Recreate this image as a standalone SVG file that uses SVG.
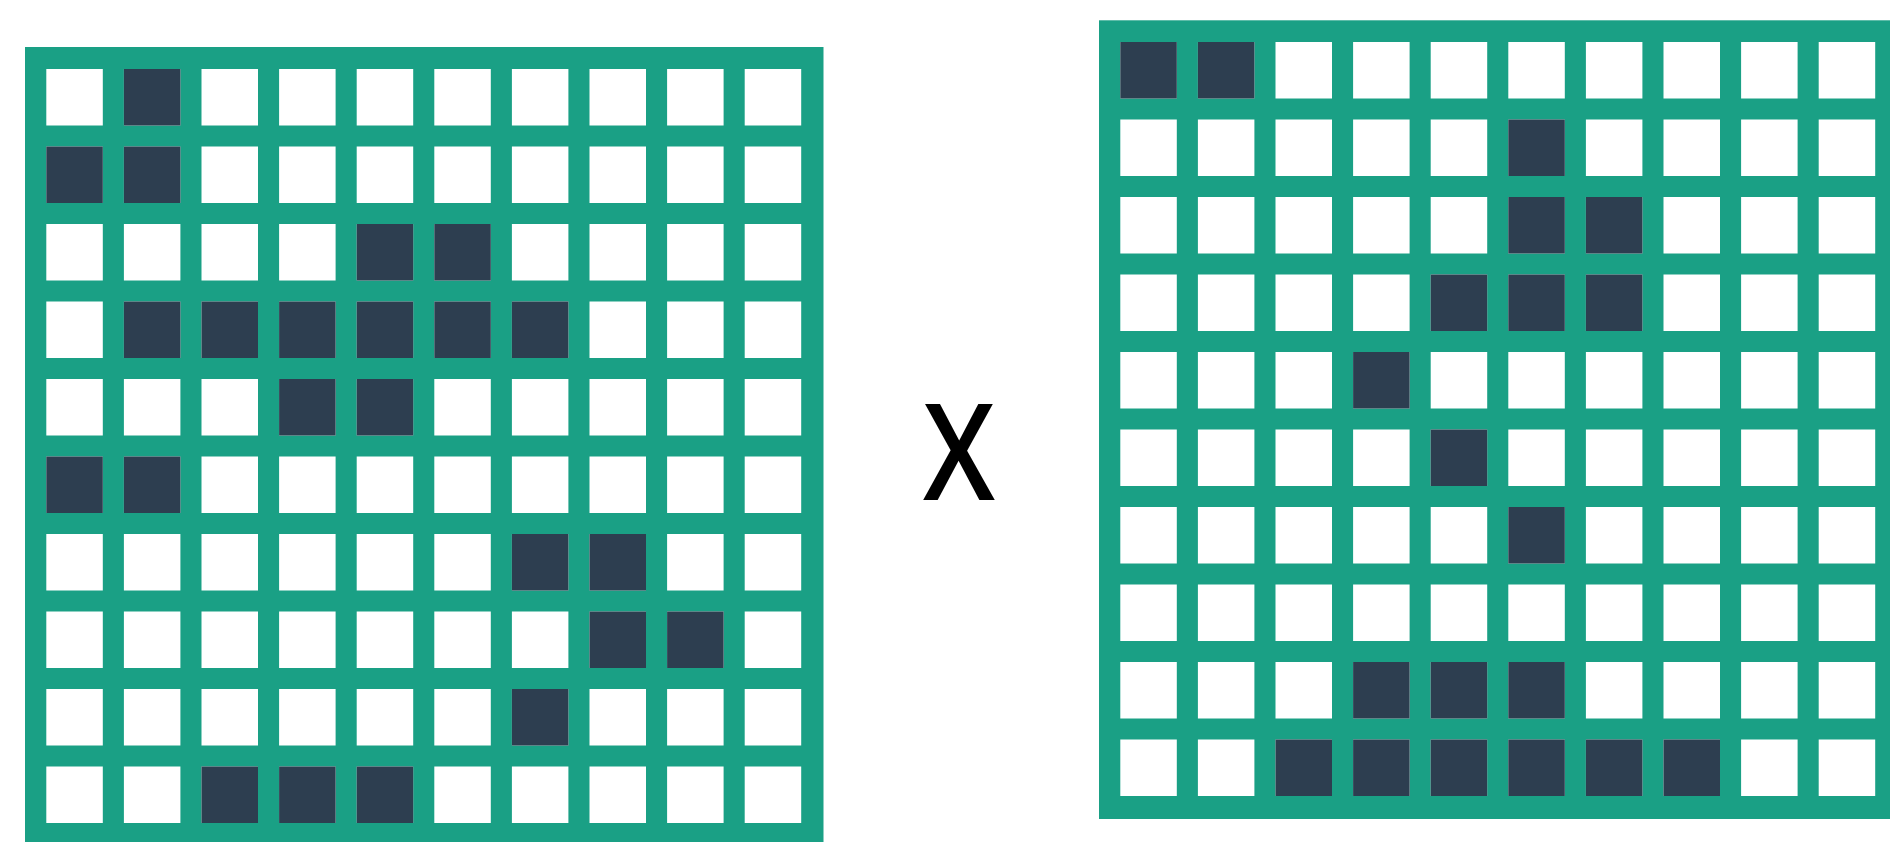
<svg xmlns="http://www.w3.org/2000/svg" xmlns:xlink="http://www.w3.org/1999/xlink" width="1890" height="842" viewBox="0 0 1890 842">
<style>
.bg{fill:#1aa085}
.w{fill:#ffffff}
.d{fill:#2d3e50}
.op{font-family:"Open Sans","Liberation Sans",sans-serif;font-size:134px;font-weight:600;fill:#000}
</style>
<defs>
<g id="row">
<rect class="w" x="0" y="0" width="56.5" height="56.5"/>
<rect class="w" x="77.6" y="0" width="56.5" height="56.5"/>
<rect class="w" x="155.2" y="0" width="56.5" height="56.5"/>
<rect class="w" x="232.8" y="0" width="56.5" height="56.5"/>
<rect class="w" x="310.4" y="0" width="56.5" height="56.5"/>
<rect class="w" x="388" y="0" width="56.5" height="56.5"/>
<rect class="w" x="465.6" y="0" width="56.5" height="56.5"/>
<rect class="w" x="543.2" y="0" width="56.5" height="56.5"/>
<rect class="w" x="620.8" y="0" width="56.5" height="56.5"/>
<rect class="w" x="698.4" y="0" width="56.5" height="56.5"/>
</g>
<rect id="dk" class="d" width="56.5" height="56.5"/>
</defs>
<rect width="1890" height="842" fill="#fff"/>
<g id="grid-left">
<rect class="bg" x="25" y="47" width="798.5" height="800"/>
<g transform="translate(46.3,69)">
<use xlink:href="#row" y="0"/><use xlink:href="#row" y="77.5"/><use xlink:href="#row" y="155"/><use xlink:href="#row" y="232.5"/><use xlink:href="#row" y="310"/>
<use xlink:href="#row" y="387.5"/><use xlink:href="#row" y="465"/><use xlink:href="#row" y="542.5"/><use xlink:href="#row" y="620"/><use xlink:href="#row" y="697.5"/>
<use xlink:href="#dk" x="77.6" y="0"/>
<use xlink:href="#dk" x="0" y="77.5"/><use xlink:href="#dk" x="77.6" y="77.5"/>
<use xlink:href="#dk" x="310.4" y="155"/><use xlink:href="#dk" x="388" y="155"/>
<use xlink:href="#dk" x="77.6" y="232.5"/><use xlink:href="#dk" x="155.2" y="232.5"/><use xlink:href="#dk" x="232.8" y="232.5"/><use xlink:href="#dk" x="310.4" y="232.5"/><use xlink:href="#dk" x="388" y="232.5"/><use xlink:href="#dk" x="465.6" y="232.5"/>
<use xlink:href="#dk" x="232.8" y="310"/><use xlink:href="#dk" x="310.4" y="310"/>
<use xlink:href="#dk" x="0" y="387.5"/><use xlink:href="#dk" x="77.6" y="387.5"/>
<use xlink:href="#dk" x="465.6" y="465"/><use xlink:href="#dk" x="543.2" y="465"/>
<use xlink:href="#dk" x="543.2" y="542.5"/><use xlink:href="#dk" x="620.8" y="542.5"/>
<use xlink:href="#dk" x="465.6" y="620"/>
<use xlink:href="#dk" x="155.2" y="697.5"/><use xlink:href="#dk" x="232.8" y="697.5"/><use xlink:href="#dk" x="310.4" y="697.5"/>
</g>
</g>
<g id="operator">
<text class="op" x="923" y="500" textLength="72" lengthAdjust="spacingAndGlyphs">X</text>
</g>
<g id="grid-right">
<rect class="bg" x="1099" y="20.3" width="800" height="798.7"/>
<g transform="translate(1120.3,42)">
<use xlink:href="#row" y="0"/><use xlink:href="#row" y="77.5"/><use xlink:href="#row" y="155"/><use xlink:href="#row" y="232.5"/><use xlink:href="#row" y="310"/>
<use xlink:href="#row" y="387.5"/><use xlink:href="#row" y="465"/><use xlink:href="#row" y="542.5"/><use xlink:href="#row" y="620"/><use xlink:href="#row" y="697.5"/>
<use xlink:href="#dk" x="0" y="0"/><use xlink:href="#dk" x="77.6" y="0"/>
<use xlink:href="#dk" x="388" y="77.5"/>
<use xlink:href="#dk" x="388" y="155"/><use xlink:href="#dk" x="465.6" y="155"/>
<use xlink:href="#dk" x="310.4" y="232.5"/><use xlink:href="#dk" x="388" y="232.5"/><use xlink:href="#dk" x="465.6" y="232.5"/>
<use xlink:href="#dk" x="232.8" y="310"/>
<use xlink:href="#dk" x="310.4" y="387.5"/>
<use xlink:href="#dk" x="388" y="465"/>
<use xlink:href="#dk" x="232.8" y="620"/><use xlink:href="#dk" x="310.4" y="620"/><use xlink:href="#dk" x="388" y="620"/>
<use xlink:href="#dk" x="155.2" y="697.5"/><use xlink:href="#dk" x="232.8" y="697.5"/><use xlink:href="#dk" x="310.4" y="697.5"/><use xlink:href="#dk" x="388" y="697.5"/><use xlink:href="#dk" x="465.6" y="697.5"/><use xlink:href="#dk" x="543.2" y="697.5"/>
</g>
</g>
</svg>
